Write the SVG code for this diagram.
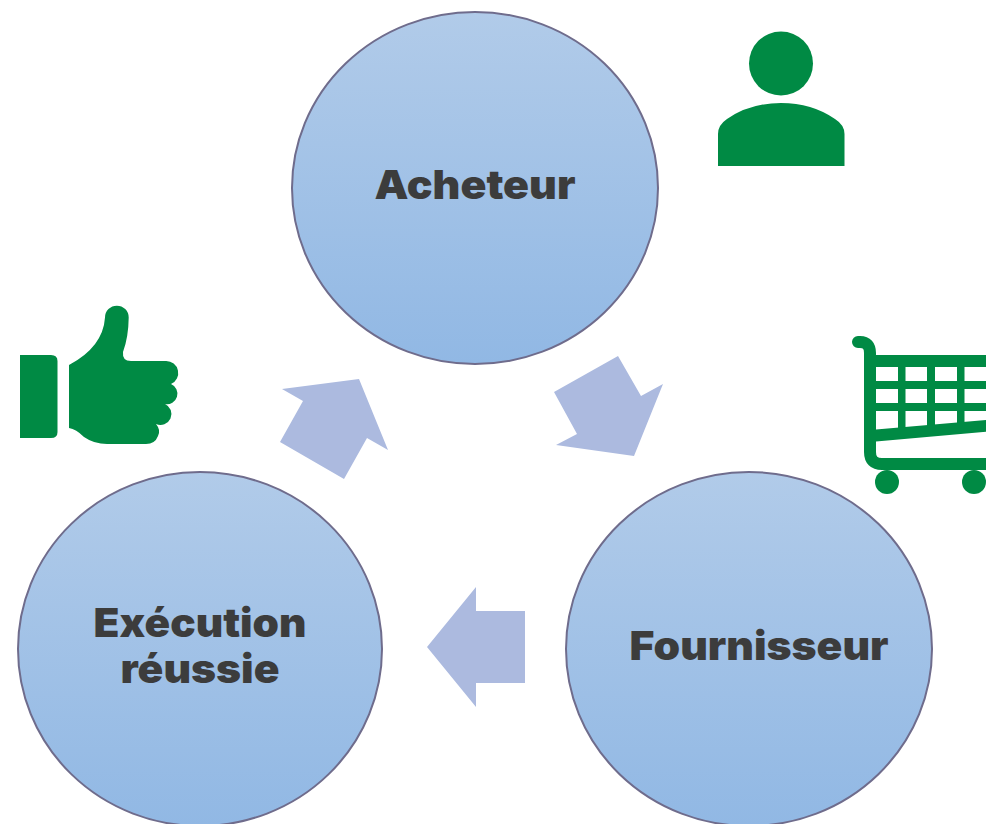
<svg xmlns="http://www.w3.org/2000/svg" width="986" height="824" viewBox="0 0 986 824">
<style>
.n{stroke:#6F6C8C;stroke-width:2;fill:url(#g)}
.t{font-family:"Inter","Open Sans",sans-serif;font-weight:900;font-size:40px;fill:#3C3C3C;text-anchor:middle}
.i{fill:#008A44}
.a{fill:#ACBADF}
</style>
<defs><linearGradient id="g" x1="0" y1="0" x2="0" y2="1"><stop offset="0" stop-color="#B1CBE9"/><stop offset="1" stop-color="#91B8E4"/></linearGradient></defs>
<rect width="986" height="824" fill="#fff"/>
<g id="connectors">
<polygon class="a" points="618,356 641,396 663,384 634,456 556,445 577,434 554,392"/>
<polygon class="a" points="427,647 476,587 476,611 525,611 525,683 476,683 476,707"/>
<polygon class="a" points="359,379 388,450 367,438 344,479 280,442 303,401 282,389"/>
</g>
<g id="acheteur"><ellipse class="n" cx="475" cy="188" rx="183" ry="176"/><text class="t" x="475" y="199" textLength="201" lengthAdjust="spacingAndGlyphs">Acheteur</text></g>
<g id="fournisseur"><ellipse class="n" cx="749" cy="649" rx="183" ry="177"/><text class="t" x="759" y="660" textLength="259" lengthAdjust="spacingAndGlyphs">Fournisseur</text></g>
<g id="execution"><ellipse class="n" cx="200" cy="649" rx="182" ry="177"/><text class="t" x="200" y="637" textLength="213" lengthAdjust="spacingAndGlyphs">Exécution</text><text class="t" x="200" y="683" textLength="159" lengthAdjust="spacingAndGlyphs">réussie</text></g>
<g id="icon-person"><circle class="i" cx="781" cy="63.500" r="32"/><path class="i" d="M718 166V134Q718 125 727 119Q750 103 781 103Q812 103 835 119Q844.500 125 844.500 134V166Z"/></g>
<g id="icon-thumb">
<path class="i" d="M20 355H51Q57.500 355 57.500 361V432Q57.500 438 51 438H20Z"/>
<path class="i" d="M69 365Q103 347 105 317.500A11.800 11.800 0 0 1 128.700 317.500Q128.500 337 123 352Q122 361 131 361H166A12 12 0 0 1 171 384A10.500 10.500 0 0 1 165 404A10 10 0 0 1 156 424Q161 430 158 436Q155 444 146 444H107Q94 444 84 437Q76 429 69 428Z"/>
</g>
<g id="icon-cart">
<path d="M858 342H860Q870 342 870 353V452Q870 464 882 464H986" fill="none" stroke="#008A44" stroke-width="12" stroke-linecap="round"/>
<rect class="i" x="870" y="355" width="116" height="12"/>
<rect class="i" x="870" y="381" width="116" height="8"/>
<rect class="i" x="870" y="403" width="116" height="8"/>
<rect class="i" x="898" y="360" width="7.500" height="72"/>
<rect class="i" x="927" y="360" width="8" height="70"/>
<rect class="i" x="957" y="360" width="7.500" height="68"/>
<polygon class="i" points="876,429.500 986,420 986,431.700 876,441.600"/>
<circle class="i" cx="887" cy="482" r="12"/><circle class="i" cx="974" cy="482" r="12"/>
</g>
</svg>
